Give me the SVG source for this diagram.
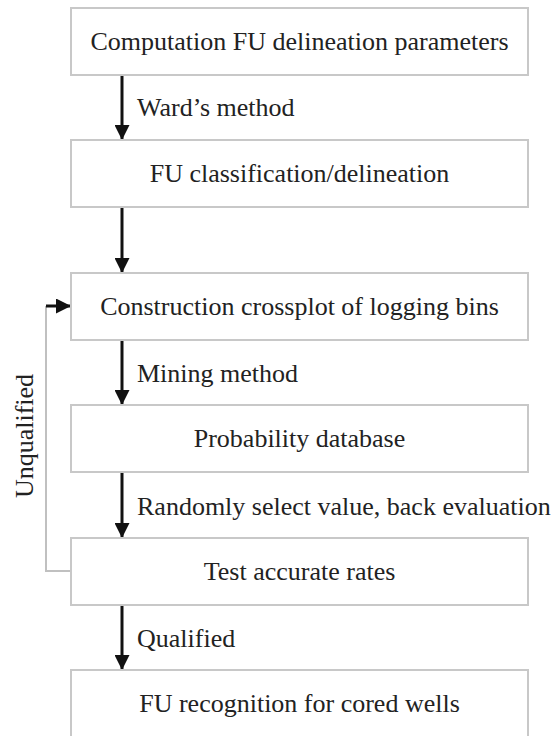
<svg xmlns="http://www.w3.org/2000/svg" width="555" height="736" viewBox="0 0 555 736">
<style>
.box{fill:#fff;stroke:#c8c8c8;stroke-width:2}
.t{font-family:"Liberation Serif","Times New Roman","DejaVu Serif",serif;font-size:26px;fill:#222}
.c{text-anchor:middle}
.ln{stroke:#111;stroke-width:3;fill:none}
.fb{stroke:#c0c0c0;stroke-width:2;fill:none}
</style>
<defs>
<marker id="ah" markerWidth="15" markerHeight="15" refX="15" refY="7.5" orient="auto" markerUnits="userSpaceOnUse">
<path d="M0,0 L15,7.5 L0,15 Z" fill="#111"/>
</marker>
</defs>
<rect width="555" height="736" fill="#fff"/>
<g id="connectors">
<line class="ln" x1="122" y1="75" x2="122" y2="140" marker-end="url(#ah)"/>
<line class="ln" x1="122" y1="207" x2="122" y2="273" marker-end="url(#ah)"/>
<line class="ln" x1="122" y1="340" x2="122" y2="405" marker-end="url(#ah)"/>
<line class="ln" x1="122" y1="472" x2="122" y2="538" marker-end="url(#ah)"/>
<line class="ln" x1="122" y1="605" x2="122" y2="670" marker-end="url(#ah)"/>
<polyline class="fb" points="71,571 46,571 46,306"/>
<line class="ln" x1="46" y1="306" x2="71" y2="306" marker-end="url(#ah)"/>
<text class="t" x="137" y="116">Ward’s method</text>
<text class="t" x="137" y="382">Mining method</text>
<text class="t" x="137" y="515">Randomly select value, back evaluation</text>
<text class="t" x="137" y="647">Qualified</text>
<text class="t c" transform="translate(33,436) rotate(-90)">Unqualified</text>
</g>
<g id="n1"><rect class="box" x="71" y="8" width="457" height="67"/><text class="t c" x="299.5" y="50">Computation FU delineation parameters</text></g>
<g id="n2"><rect class="box" x="71" y="140" width="457" height="67"/><text class="t c" x="299.5" y="182">FU classification/delineation</text></g>
<g id="n3"><rect class="box" x="71" y="273" width="457" height="67"/><text class="t c" x="299.5" y="315">Construction crossplot of logging bins</text></g>
<g id="n4"><rect class="box" x="71" y="405" width="457" height="67"/><text class="t c" x="299.5" y="447">Probability database</text></g>
<g id="n5"><rect class="box" x="71" y="538" width="457" height="67"/><text class="t c" x="299.5" y="580">Test accurate rates</text></g>
<g id="n6"><rect class="box" x="71" y="670" width="457" height="72"/><text class="t c" x="299.5" y="712">FU recognition for cored wells</text></g>
</svg>
